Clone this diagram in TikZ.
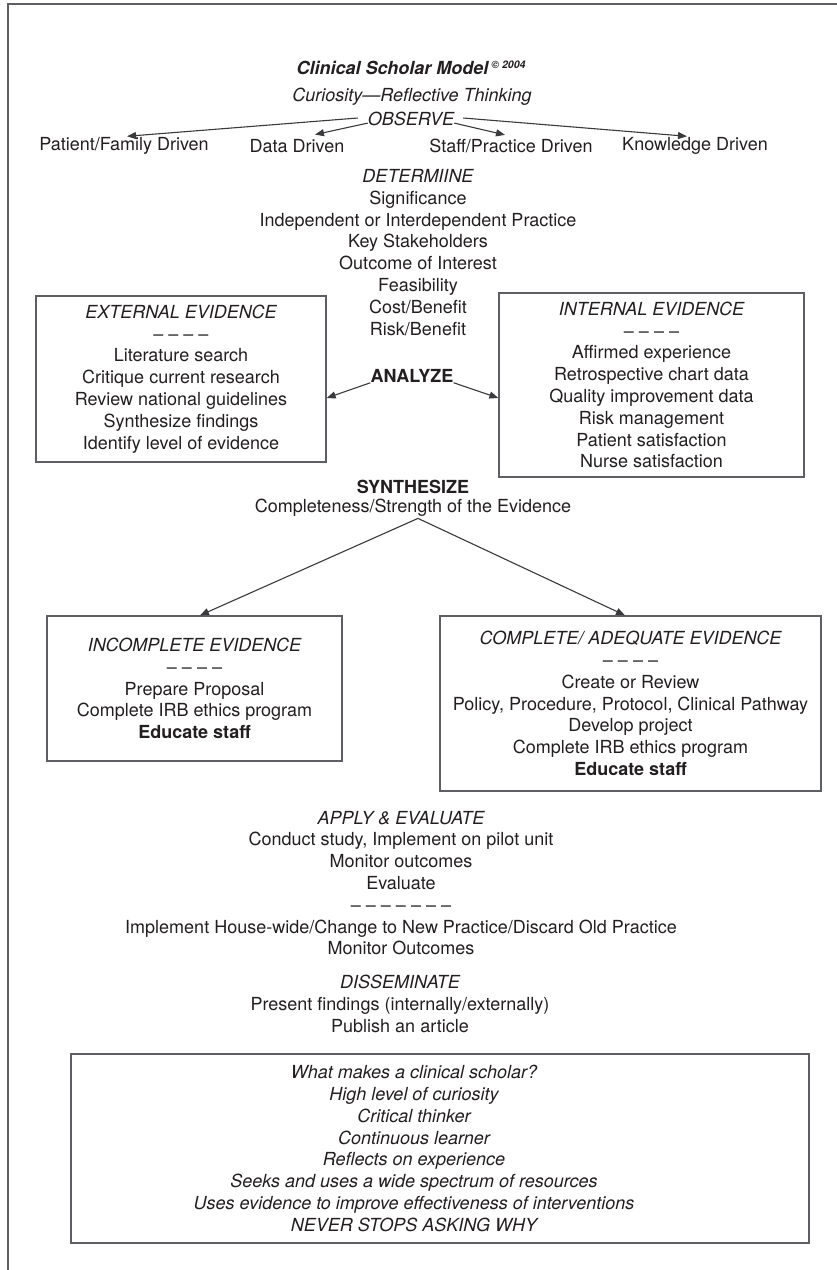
\documentclass[tikz,border=0pt]{standalone}
\usepackage{fontspec}
\setmainfont{TeX Gyre Heros}
\usetikzlibrary{arrows.meta}
\definecolor{txt}{HTML}{231F20}
\definecolor{linec}{HTML}{3A3A3C}
\definecolor{boxc}{HTML}{5E5F62}
\begin{document}
\begin{tikzpicture}[x=1pt,y=-1pt,
  every node/.style={text=txt, font=\fontsize{18}{21.8}\selectfont, inner sep=0pt},
  lbl/.style={align=center},
  evbox/.style={draw=boxc, line width=1.3pt, align=center},
  arr/.style={draw=linec, line width=1.1pt, -{Triangle[length=9pt,width=7pt]}},
  frameline/.style={draw=boxc, line width=1.5pt}]
\useasboundingbox (0,0) rectangle (837,1270);
\fill[white] (0,0) rectangle (837,1270);
\coordinate (fr1) at (837,4);
\coordinate (fr2) at (8,4);
\coordinate (fr3) at (8,1270);
\draw[frameline] (fr1) -- (fr2) -- (fr3);

% top
\node (title) at (411,68) {\bfseries\itshape Clinical Scholar Model\,\raisebox{6pt}{\fontsize{10.5}{12}\selectfont © 2004}};
\node (curio) at (412,97) {\itshape Curiosity—Reflective Thinking};
\node (obs) at (411,119) {\itshape OBSERVE};
\node (pat) at (124,146) {Patient/Family Driven};
\node (data) at (297,146) {Data Driven};
\node (staff) at (511,146) {Staff/Practice Driven};
\node (know) at (695,146) {Knowledge Driven};

\draw[arr] ([xshift=-10pt,yshift=1pt]obs.west) -- ([xshift=3pt,yshift=1pt]pat.north);
\draw[arr] ([yshift=3pt]obs.south west) -- ([xshift=18pt,yshift=4.5pt]data.north);
\draw[arr] ([yshift=3pt]obs.south east) -- ([xshift=-6pt,yshift=4pt]staff.north);
\draw[arr] ([xshift=9pt,yshift=1pt]obs.east) -- ([xshift=-8pt,yshift=1pt]know.north);

% determine
\node[lbl] (det) at (418,252.5) {{\itshape DETERMIINE}\\Significance\\Independent or Interdependent Practice\\Key Stakeholders\\Outcome of Interest\\Feasibility\\Cost/Benefit\\Risk/Benefit};

% evidence boxes
\node[evbox, minimum width=290pt, minimum height=166pt] (ext) at (181,379) {{\itshape EXTERNAL EVIDENCE}\\– – – –\\Literature search\\Critique current research\\Review national guidelines\\Synthesize findings\\Identify level of evidence};
\node[evbox, minimum width=305pt, minimum height=184pt] (int) at (651.5,385) {{\itshape INTERNAL EVIDENCE}\\– – – –\\Affirmed experience\\Retrospective chart data\\Quality improvement data\\Risk management\\Patient satisfaction\\Nurse satisfaction};

\node (analyze) at (412,376) {\bfseries ANALYZE};
\draw[arr] (analyze.south west) -- ([yshift=-19pt]ext.east);
\draw[arr] (analyze.south east) -- ([yshift=-13pt]int.west);

% synthesize
\node (synth) at (413,487) {\bfseries SYNTHESIZE};
\node (compl) at (413,508) {Completeness/Strength of the Evidence};

\node[evbox, minimum width=295pt, minimum height=145pt] (inc) at (194.5,688.5) {{\itshape INCOMPLETE EVIDENCE}\\– – – –\\Prepare Proposal\\Complete IRB ethics program\\\textbf{Educate staff}};
\node[evbox, minimum width=381pt, minimum height=175pt] (comp) at (630.5,703.5) {{\itshape COMPLETE/ ADEQUATE EVIDENCE}\\– – – –\\Create or Review\\Policy, Procedure, Protocol, Clinical Pathway\\Develop project\\Complete IRB ethics program\\\textbf{Educate staff}};

\draw[arr] ([xshift=5pt,yshift=-1.5pt]compl.south) -- ([xshift=5.5pt]inc.north);
\draw[arr] ([xshift=5pt,yshift=-1.5pt]compl.south) -- ([xshift=-5.5pt]comp.north);

% apply
\node[lbl] (apply) at (401,883) {{\itshape APPLY \& EVALUATE}\\Conduct study, Implement on pilot unit\\Monitor outcomes\\Evaluate\\– – – – – – –\\Implement House-wide/Change to New Practice/Discard Old Practice\\Monitor Outcomes};

% disseminate
\node[lbl] (diss) at (400,1004) {{\itshape DISSEMINATE}\\Present findings (internally/externally)\\Publish an article};

% bottom box
\node[draw=boxc, line width=1.3pt, minimum width=738pt, minimum height=189pt] (qbox) at (440,1148.5) {};
\node[lbl, font=\fontsize{18}{21.8}\selectfont\itshape] (qtext) at (414,1148.5) {What makes a clinical scholar?\\High level of curiosity\\Critical thinker\\Continuous learner\\Reflects on experience\\Seeks and uses a wide spectrum of resources\\Uses evidence to improve effectiveness of interventions\\NEVER STOPS ASKING WHY};
\end{tikzpicture}
\end{document}
